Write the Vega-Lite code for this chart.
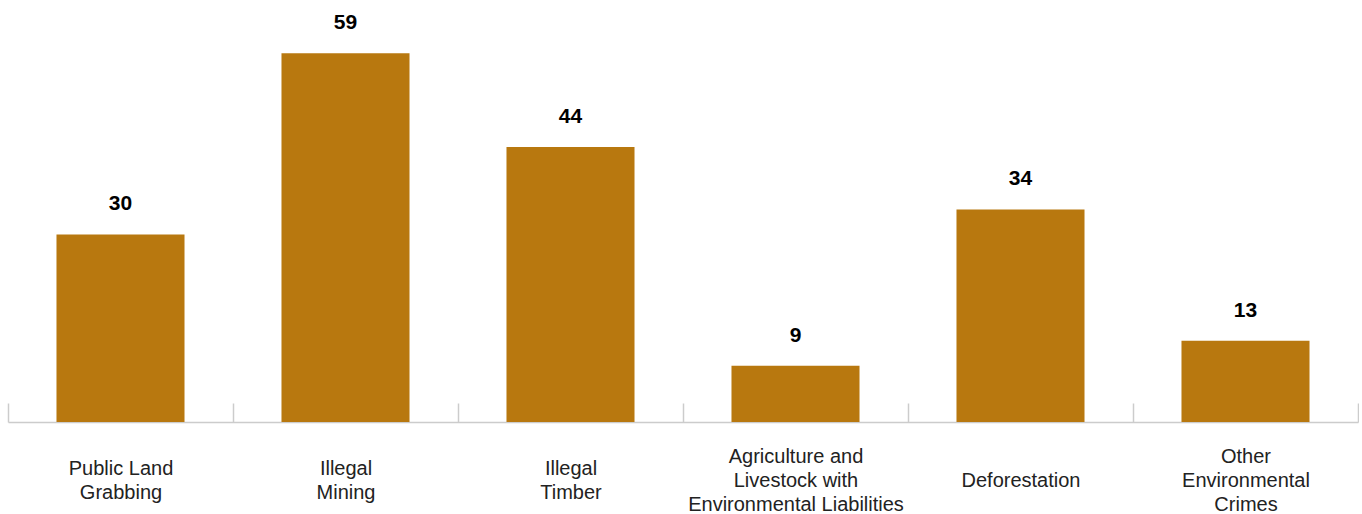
{
  "$schema": "https://vega.github.io/schema/vega-lite/v6.json",
  "width": 1350,
  "height": 422,
  "padding": {"left": 7, "top": 0, "right": 0, "bottom": 0},
  "background": "#ffffff",
  "config": {"view": {"stroke": null}, "font": "Liberation Sans"},
  "data": {
    "values": [
      {"category": "Public Land|Grabbing", "count": 30},
      {"category": "Illegal|Mining", "count": 59},
      {"category": "Illegal|Timber", "count": 44},
      {"category": "Agriculture and|Livestock with|Environmental Liabilities", "count": 9},
      {"category": "Deforestation", "count": 34},
      {"category": "Other|Environmental|Crimes", "count": 13}
    ]
  },
  "encoding": {
    "x": {
      "field": "category",
      "type": "nominal",
      "sort": null,
      "scale": {"paddingInner": 0, "paddingOuter": 0},
      "axis": {
        "title": null,
        "labelAngle": 0,
        "labelExpr": "split(datum.label, '|')",
        "labelFontSize": 20,
        "labelColor": "#222222",
        "labelBaseline": "middle",
        "labelLineHeight": 24,
        "labelPadding": {
          "condition": [
            {"test": "length(split(datum.label, '|')) >= 3", "value": 53},
            {"test": "length(split(datum.label, '|')) == 2", "value": 65}
          ],
          "value": 77
        },
        "tickBand": "extent",
        "tickSize": -19,
        "tickColor": "#cccccc",
        "tickWidth": 1.5,
        "domainColor": "#cccccc",
        "domainWidth": 1.5,
        "labelLimit": 300
      }
    },
    "y": {
      "field": "count",
      "type": "quantitative",
      "scale": {"domain": [0, 67.5], "nice": false},
      "axis": null
    }
  },
  "layer": [
    {"mark": {"type": "bar", "color": "#B8780F", "width": {"band": 0.569}}},
    {
      "mark": {"type": "text", "baseline": "alphabetic", "dy": -24, "fontSize": 21, "fontWeight": "bold", "color": "#000000"},
      "encoding": {"text": {"field": "count", "type": "quantitative"}}
    }
  ]
}
